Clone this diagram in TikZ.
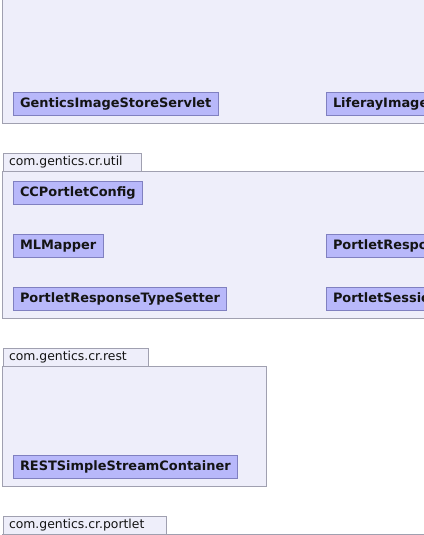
\documentclass[tikz,border=0pt]{standalone}
\usepackage{fontspec}
\setmainfont{DejaVu Sans}
\usetikzlibrary{positioning}
\definecolor{pkgfill}{RGB}{238,238,250}
\definecolor{pkgline}{RGB}{160,160,176}
\definecolor{clsfill}{RGB}{184,184,250}
\definecolor{clsline}{RGB}{128,128,192}
\definecolor{txt}{RGB}{20,20,20}
\tikzset{
	pkg/.style={
		draw=pkgline, fill=pkgfill, line width=0.75pt
	},
	tab/.style={
		rectangle, draw=pkgline, fill=pkgfill, line width=0.75pt,
		anchor=south west, minimum height=13.5pt,
		inner xsep=4.5pt, inner ysep=0pt, align=left, text=txt,
		text height=7pt, text depth=2pt,
		font=\fontsize{9.3}{11}\selectfont
	},
	cls/.style={
		rectangle, draw=clsline, fill=clsfill, line width=0.75pt,
		anchor=north west, minimum height=17.25pt,
		inner xsep=5.25pt, inner ysep=0pt, text=txt,
		text height=7pt, text depth=1.5pt,
		font=\fontsize{9.7}{11}\selectfont\bfseries
	},
}
\begin{document}
\begin{tikzpicture}[x=0.75pt, y=-0.75pt]
\useasboundingbox (0,0) rectangle (424,535);
\clip (0,0) rectangle (424,535);

% package com.gentics.cr (servlets)
\draw[pkg] (2.5,-10) rectangle (440,123.5);
\node[cls] (storeservlet) at (12.5,91.5) {GenticsImageStoreServlet};
\node[cls, text width=150pt, align=left] (liferayservlet) at (325.5,91.5) {LiferayImage};

% package com.gentics.cr.util
\coordinate (util) at (2.5,171.5);
\draw[pkg] (util) rectangle (440,318.5);
\node[tab, text width=94.5pt] (utiltab) at (util) {com.gentics.cr.util};
\node[cls] (portletconfig) at (12.5,180.5) {CCPortletConfig};
\node[cls] (mlmapper) at (12.5,233.5) {MLMapper};
\node[cls, text width=150pt, align=left] (responsewrapper) at (325.5,233.5) {PortletRespo};
\node[cls] (typesetter) at (12.5,286.5) {PortletResponseTypeSetter};
\node[cls, text width=150pt, align=left] (sessionhelper) at (325.5,286.5) {PortletSessio};

% package com.gentics.cr.rest
\coordinate (rest) at (2.5,366.5);
\draw[pkg] (rest) rectangle (266.5,486.5);
\node[tab, text width=99.75pt] (resttab) at (rest) {com.gentics.cr.rest};
\node[cls] (streamcontainer) at (12.5,454.5) {RESTSimpleStreamContainer};

% package com.gentics.cr.portlet
\coordinate (portlet) at (2.5,534.5);
\draw[pkg] (portlet) rectangle (440,600);
\node[tab, text width=113.25pt] (portlettab) at (portlet) {com.gentics.cr.portlet};

\end{tikzpicture}
\end{document}
